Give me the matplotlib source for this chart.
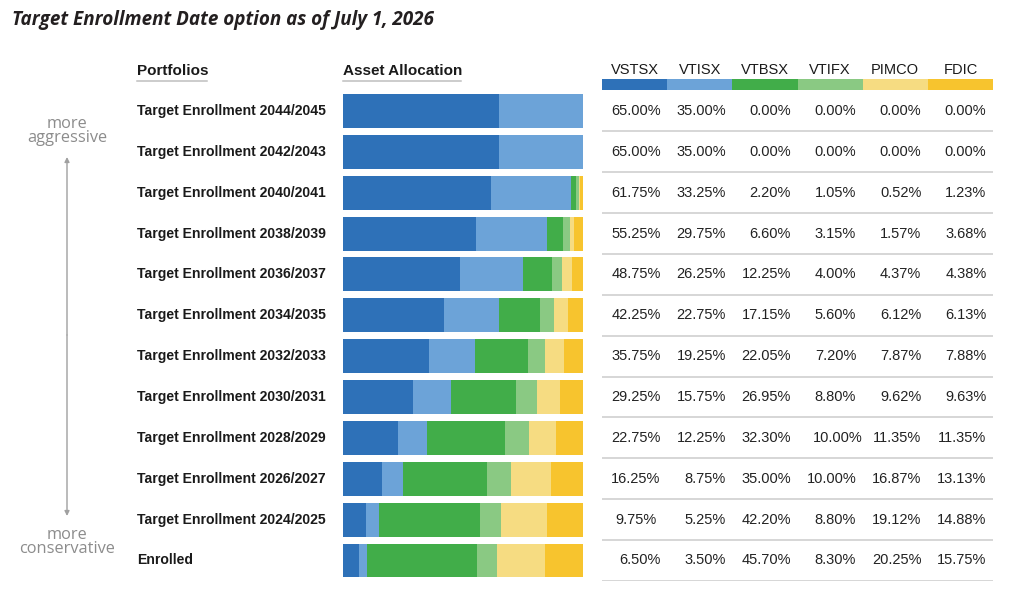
import matplotlib
matplotlib.use("Agg")
import matplotlib.pyplot as plt
import numpy as np

portfolios = [
    "Target Enrollment 2044/2045",
    "Target Enrollment 2042/2043",
    "Target Enrollment 2040/2041",
    "Target Enrollment 2038/2039",
    "Target Enrollment 2036/2037",
    "Target Enrollment 2034/2035",
    "Target Enrollment 2032/2033",
    "Target Enrollment 2030/2031",
    "Target Enrollment 2028/2029",
    "Target Enrollment 2026/2027",
    "Target Enrollment 2024/2025",
    "Enrolled",
]
funds = ["VSTSX", "VTISX", "VTBSX", "VTIFX", "PIMCO", "FDIC"]
fund_colors = ["#2E71B8", "#6CA3D8", "#41AD49", "#8AC983", "#F6DC82", "#F7C42E"]

vstsx = [65.00, 65.00, 61.75, 55.25, 48.75, 42.25, 35.75, 29.25, 22.75, 16.25, 9.75, 6.50]
vtisx = [35.00, 35.00, 33.25, 29.75, 26.25, 22.75, 19.25, 15.75, 12.25, 8.75, 5.25, 3.50]
vtbsx = [0.00, 0.00, 2.20, 6.60, 12.25, 17.15, 22.05, 26.95, 32.30, 35.00, 42.20, 45.70]
vtifx = [0.00, 0.00, 1.05, 3.15, 4.00, 5.60, 7.20, 8.80, 10.00, 10.00, 8.80, 8.30]
pimco = [0.00, 0.00, 0.52, 1.57, 4.37, 6.12, 7.87, 9.62, 11.35, 16.87, 19.12, 20.25]
fdic = [0.00, 0.00, 1.23, 3.68, 4.38, 6.13, 7.88, 9.63, 11.35, 13.13, 14.88, 15.75]

alloc = np.array([vstsx, vtisx, vtbsx, vtifx, pimco, fdic])

W, H = 1024, 601
fig = plt.figure(figsize=(W / 100, H / 100), dpi=100)
plt.rcParams['font.family'] = ['Liberation Sans', 'DejaVu Sans']

# pixel-space axes for the free text
bg = fig.add_axes([0, 0, 1, 1])
bg.set_xlim(0, W)
bg.set_ylim(H, 0)
bg.axis("off")

row0 = 111.0      # centre of first row, px
step = 40.86      # row pitch, px
n = len(portfolios)

def rect(x0, x1, y_top, y_bot):
    return [x0 / W, 1 - y_bot / H, (x1 - x0) / W, (y_bot - y_top) / H]

# title
bg.text(12, 20, "Target Enrollment Date option as of July 1, 2026", fontsize=13.6,
        fontweight="bold", fontstyle="italic", family=["Open Sans", "DejaVu Sans"],
        color="#231f20", ha="left", va="center")

# column headers
bg.text(137, 71, "Portfolios", fontsize=11, fontweight="bold", color="#1a1a1a",
        ha="left", va="center")
bg.plot([137, 207], [81, 81], color="#bfbfbf", lw=1.1)
bg.text(343, 71, "Asset Allocation", fontsize=11, fontweight="bold", color="#1a1a1a",
        ha="left", va="center")
bg.plot([343, 461], [81, 81], color="#bfbfbf", lw=1.1)

# row labels
for i, name in enumerate(portfolios):
    bg.text(137, row0 + i * step, name, fontsize=10.1, fontweight="bold",
            color="#1a1a1a", ha="left", va="center")

# risk annotation
gray = "#8c8c8c"
ann_font = ["Open Sans", "DejaVu Sans"]
bg.text(67, 131, "more\naggressive", fontsize=11.8, color=gray, family=ann_font,
        ha="center", va="center", linespacing=0.9)
bg.text(67, 542, "more\nconservative", fontsize=11.8, color=gray, family=ann_font,
        ha="center", va="center", linespacing=0.9)
bg.annotate("", xy=(67, 157), xytext=(67, 335),
            arrowprops=dict(arrowstyle="-|>", color="#a0a0a0", lw=1.0,
                            mutation_scale=7, shrinkA=0, shrinkB=0))
bg.annotate("", xy=(67, 516), xytext=(67, 335),
            arrowprops=dict(arrowstyle="-|>", color="#a0a0a0", lw=1.0,
                            mutation_scale=7, shrinkA=0, shrinkB=0))

# stacked bars
top = row0 - step / 2
bot = row0 + (n - 0.5) * step
axb = fig.add_axes(rect(343, 583, top, bot))
rows = np.arange(n)
left = np.zeros(n)
for k in range(len(funds)):
    axb.barh(rows, alloc[k], left=left, height=0.83, color=fund_colors[k],
             edgecolor="none")
    left += alloc[k]
axb.set_xlim(0, 100)
axb.set_ylim(n - 0.5, -0.5)
axb.axis("off")

# table
axt = fig.add_axes(rect(602, 993, top - step, bot))
axt.set_xlim(0, len(funds))
axt.set_ylim(n - 0.5, -1.5)
axt.axis("off")
for k, f in enumerate(funds):
    axt.text(k + 0.5, -1.0, f, fontsize=10.5, color="#1a1a1a", ha="center", va="center")
    axt.fill_between([k, k + 1], -0.785, -0.51, color=fund_colors[k], lw=0)
    for i in range(n):
        x, ha = k + 0.9, "right"
        # a couple of cells in the source sit off the column alignment
        if (k, i) == (3, 8):
            x = k + 1.0
        if (k, i) == (0, 10):
            x, ha = k + 0.2, "left"
        axt.text(x, i, f"{alloc[k][i]:.2f}%", fontsize=10.5, color="#222222",
                 ha=ha, va="center")
for i in range(n):
    axt.axhline(i + 0.5, color="#d0d0d0", lw=1.2)

fig.savefig("out.png", dpi=100, facecolor="white")
